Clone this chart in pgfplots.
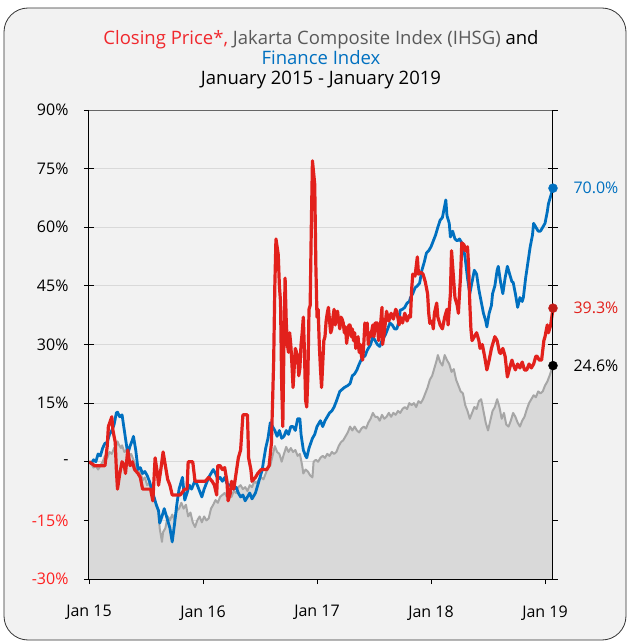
\documentclass[border=0pt]{standalone}
\usepackage{fontspec}
\setmainfont{Open Sans}
\usepackage{pgfplots}
\usepackage{pgfplotstable}
\pgfplotsset{compat=1.18}
\definecolor{bgc}{HTML}{F2F2F2}
\definecolor{bluec}{HTML}{0070C0}
\definecolor{redc}{HTML}{E2211C}
\definecolor{greyl}{HTML}{A6A6A6}
\definecolor{greyf}{HTML}{D9D9D9}
\definecolor{gridc}{HTML}{D9D9D9}
\definecolor{titlered}{HTML}{F0282D}
\definecolor{titlegrey}{HTML}{595959}
\definecolor{negred}{HTML}{FF2020}

\pgfplotstableread{
t v
0 0
0.02 -0.5
0.04 -1.5
0.06 -1
0.08 -2
0.10 -1
0.12 0
0.14 1.5
0.16 1
0.18 2.5
0.20 2
0.22 3.5
0.24 4
0.25 5.2
0.26 4.5
0.28 3.5
0.29 4.2
0.31 2.5
0.33 3
0.35 1.5
0.37 2
0.39 0.5
0.41 -1
0.43 -3
0.45 -2.5
0.47 -4.7
0.49 -4
0.51 -6
0.53 -5.5
0.55 -8
0.57 -9
0.59 -11
0.61 -13
0.62 -17
0.64 -20.5
0.65 -18
0.67 -17
0.69 -14
0.71 -15
0.73 -13.5
0.75 -15
0.77 -12.5
0.79 -12
0.81 -10.5
0.83 -12
0.85 -11
0.87 -14
0.89 -13
0.91 -15.5
0.93 -16.7
0.95 -15
0.97 -14
0.99 -15.5
1.01 -14
1.03 -15
1.05 -14.5
1.07 -12
1.09 -11
1.11 -9.8
1.13 -10.5
1.15 -9
1.17 -8.5
1.19 -8
1.21 -9
1.23 -8
1.25 -9
1.27 -7.5
1.29 -8
1.31 -6.5
1.33 -6
1.35 -7
1.37 -6.5
1.39 -7.5
1.41 -6
1.43 -6.5
1.45 -5
1.47 -5.5
1.49 -4.5
1.51 -4
1.53 -4.5
1.55 -3
1.57 -1.5
1.59 -1
1.61 1.5
1.63 4
1.65 2.5
1.67 2
1.69 0
1.71 2
1.73 3.8
1.75 2.5
1.77 3.5
1.79 2.5
1.81 3
1.83 1.5
1.85 2
1.87 -1
1.88 -3
1.90 -2
1.92 -2.5
1.94 -3.5
1.96 -4
1.97 0
1.99 0.5
2.01 0
2.03 1
2.05 1.5
2.07 1
2.09 2
2.11 1.5
2.13 2.5
2.15 2
2.17 2.5
2.19 4
2.21 5
2.23 5.5
2.25 6.5
2.27 7.5
2.29 9
2.31 8
2.33 9
2.35 8
2.37 7.5
2.39 8.5
2.41 9
2.43 8.5
2.45 10
2.47 11
2.49 12.5
2.51 11.5
2.53 11.5
2.55 10.5
2.57 12
2.59 11
2.61 11.5
2.63 12.5
2.65 11.5
2.67 12.5
2.69 12
2.71 13
2.73 12.5
2.75 13.5
2.77 14
2.79 13.5
2.81 15
2.83 14.5
2.85 15
2.87 14
2.89 15.5
2.91 15
2.93 16
2.95 17.5
2.97 19
2.99 21
3.01 22
3.03 24
3.05 26
3.06 27.3
3.08 25.5
3.10 24.6
3.12 27.3
3.14 26
3.16 25
3.18 23
3.20 23.7
3.22 21
3.24 19.5
3.26 18
3.28 17.5
3.30 14.5
3.32 13
3.34 11
3.36 12.5
3.38 14
3.40 13.5
3.42 15.5
3.44 16
3.46 13
3.48 10
3.50 8
3.52 10.5
3.54 13
3.56 14
3.58 16
3.60 14
3.62 11
3.64 12.5
3.66 9.5
3.68 9
3.70 10.5
3.72 12.5
3.74 11.5
3.76 10
3.78 9
3.80 10.5
3.82 11.5
3.84 13.4
3.86 15
3.88 16
3.90 17
3.92 16.5
3.94 18
3.96 17.5
3.98 18
4.00 19.5
4.02 20.5
4.04 22
4.07 24.6
}\ihsg

\pgfplotstableread{
t v
0 0
0.02 -0.5
0.04 0.5
0.06 0
0.08 2
0.10 1.5
0.12 3.5
0.14 4.7
0.16 5
0.18 7
0.20 8
0.22 9.5
0.24 12.5
0.25 12.7
0.27 11.5
0.29 12
0.30 10
0.32 6
0.34 2
0.36 4
0.38 5.5
0.39 6.5
0.41 3
0.43 -2
0.45 -1.5
0.47 -3
0.49 -2.5
0.51 -3.5
0.53 -5
0.55 -7
0.57 -9
0.59 -11
0.61 -12.5
0.62 -15.7
0.64 -14
0.66 -12
0.67 -13
0.69 -15
0.71 -17
0.73 -20.5
0.75 -16
0.77 -11
0.79 -7
0.81 -5
0.82 -4
0.84 -9.8
0.86 -8
0.88 -6
0.90 -7
0.93 -4.8
0.95 -6
0.97 -7.5
0.99 -9
1.01 -7
1.03 -5.5
1.05 -4
1.07 -3
1.09 -2
1.11 -3
1.13 -4.5
1.15 -4
1.17 -5
1.19 -4
1.21 -5.5
1.23 -6
1.25 -6
1.27 -7
1.29 -6.5
1.31 -8
1.33 -9
1.35 -8.5
1.37 -10
1.39 -9
1.41 -8
1.43 -9.5
1.46 -8
1.48 -6
1.50 -4
1.52 -2
1.53 0
1.55 3.5
1.57 6
1.59 10
1.61 9
1.63 8
1.65 6.5
1.67 8
1.69 6
1.71 6.5
1.73 8
1.75 7
1.77 9
1.79 9
1.81 8
1.83 11
1.85 11
1.86 7
1.88 3
1.90 1.5
1.91 1
1.93 3.5
1.96 6
1.98 7
2.00 9
2.03 10.5
2.05 9
2.07 10.5
2.09 11.5
2.11 12.5
2.13 13
2.15 14
2.17 15.5
2.20 18
2.22 18.5
2.24 19
2.27 19.5
2.29 20
2.31 22
2.33 22.5
2.35 23.5
2.37 25
2.40 26.8
2.42 27
2.44 28.5
2.47 30
2.49 32
2.51 31
2.53 30
2.55 29.5
2.57 31
2.60 32.5
2.62 34
2.64 35.5
2.66 35
2.68 34
2.70 34
2.72 36
2.73 38.8
2.75 39
2.77 39.5
2.79 40.6
2.81 41
2.82 42
2.84 43
2.86 44.5
2.88 45
2.90 45.7
2.92 49
2.94 51
2.96 53.4
2.98 54
3.00 55
3.02 56.5
3.04 58
3.06 60
3.08 61.8
3.10 62.5
3.11 64
3.13 67
3.14 63
3.16 61
3.17 57.5
3.19 59
3.21 57
3.23 56.5
3.25 57
3.27 56
3.28 55.5
3.30 52
3.32 47
3.34 43
3.36 46
3.38 49
3.40 48
3.42 44
3.44 41
3.46 38
3.48 36
3.49 34.5
3.51 38
3.53 40
3.54 43
3.56 45
3.58 49
3.59 50
3.61 46
3.63 43
3.65 47
3.67 50
3.69 48
3.71 46
3.72 46
3.74 43
3.76 39.5
3.78 42
3.80 41
3.81 42
3.83 47
3.85 51
3.87 55
3.89 58
3.90 61
3.92 60
3.94 59
3.96 59
3.98 60
4.00 61
4.02 64
4.03 66
4.05 68
4.07 70
}\fin

\pgfplotstableread{
t v
0 0
0.05 -1
0.10 -1
0.14 -1
0.16 4
0.17 9
0.20 11.5
0.21 8
0.23 5
0.24 -2
0.25 -7
0.27 -3
0.29 0
0.31 -1
0.32 -3
0.34 3
0.36 -1
0.38 0
0.40 -2
0.43 -3
0.45 -4
0.47 -7
0.50 -7
0.54 -7
0.56 -10
0.58 1
0.60 -3
0.61 -6
0.63 -2
0.65 2.5
0.67 -1
0.69 -4.5
0.71 -6
0.73 -8.5
0.75 -8.5
0.80 -8.5
0.84 -7
0.86 -7
0.87 0
0.91 0
0.93 -5
1.02 -5
1.05 -4
1.08 -5
1.10 -6
1.12 -8.5
1.13 -1
1.15 -1
1.17 -2
1.19 -1.5
1.21 -5
1.22 -10
1.24 -8
1.25 -5
1.27 -7
1.29 -3
1.31 1
1.33 3
1.35 12
1.39 12
1.40 1
1.42 -2
1.43 -5
1.46 -4
1.48 -3
1.51 -2
1.54 -2
1.56 -2
1.58 -1
1.60 4.7
1.61 15
1.62 26
1.63 45
1.64 57
1.66 53
1.67 45
1.68 41
1.69 20
1.70 9
1.71 30
1.72 47
1.73 36
1.74 30
1.75 28
1.76 33
1.77 30
1.78 25
1.79 19
1.80 24
1.81 29
1.83 27
1.84 22
1.85 24
1.86 30
1.87 33
1.88 37
1.89 28
1.90 15.7
1.91 14
1.92 22
1.93 39
1.94 40
1.95 60
1.96 77
1.97 74
1.98 71
1.99 50
2.00 37
2.01 39
2.02 30
2.03 24
2.04 19
2.05 25
2.06 31
2.07 32
2.08 36
2.09 38
2.10 39.5
2.11 36
2.12 33
2.13 34
2.14 37
2.15 39
2.16 35
2.17 38
2.18 38.5
2.19 36
2.20 34
2.21 37
2.22 36.5
2.23 35.5
2.24 33
2.25 34.5
2.26 30.3
2.27 33
2.28 35
2.29 35
2.30 32
2.31 34
2.32 31
2.33 33
2.34 29
2.35 30
2.36 32
2.37 28
2.38 30
2.39 27
2.40 26
2.41 30
2.42 35.5
2.43 33
2.44 35.5
2.45 30
2.46 33
2.47 32
2.49 35
2.50 32
2.51 35.5
2.53 35.5
2.54 31
2.56 36
2.57 39.5
2.575 30
2.59 33
2.61 38.5
2.63 36
2.65 38
2.67 36.5
2.69 39
2.70 38.5
2.72 35
2.73 37
2.75 35.5
2.77 38
2.79 36
2.81 37.5
2.82 37
2.83 44
2.84 48
2.86 47.5
2.88 52.4
2.89 48
2.91 48.5
2.93 48
2.95 46
2.97 43
2.98 38
2.99 35.4
3.01 36
3.02 34
3.03 38
3.05 40.6
3.06 37
3.08 35
3.10 34
3.12 37
3.14 39
3.15 35
3.17 43
3.18 54
3.19 50
3.21 42
3.23 40
3.24 38
3.26 48
3.27 56
3.29 55.5
3.30 54
3.32 55
3.33 50
3.34 40.6
3.35 34
3.36 31
3.38 32
3.40 33
3.42 31
3.43 29
3.45 30
3.47 27
3.49 23.5
3.51 26
3.53 29
3.54 30
3.56 32
3.58 31
3.60 28
3.61 27.7
3.63 29
3.65 27
3.67 21.7
3.69 24
3.71 26
3.72 25
3.74 23.5
3.76 25
3.78 24
3.80 25.5
3.82 23.5
3.84 23.5
3.86 25
3.88 24
3.90 25
3.92 27
3.93 27
3.95 26
3.97 26
3.99 31
4.00 32
4.02 35
4.03 33
4.05 35
4.07 39.3
}\price

\begin{document}
\begin{tikzpicture}[x=1pt,y=1pt]
\fill[white] (-89,-62) rectangle (539,579);
\filldraw[fill=bgc, draw=black!80, line width=0.8pt, rounded corners=24pt] (-85,-61) rectangle (537,571);
\node[align=center, font=\fontsize{18.5}{20}\selectfont] at (232,519)
 {\textcolor{titlered}{Closing Price*,} \textcolor{titlegrey}{Jakarta Composite Index (IHSG)} and\\
  \textcolor{bluec}{Finance Index}\\
  January 2015 - January 2019};
\begin{axis}[
  at={(0,0)}, anchor=south west,
  scale only axis, width=464pt, height=469pt,
  xmin=0, xmax=4.07, ymin=-30, ymax=90,
  clip=false,
  xtick={0,1,2,3,4},
  xticklabels={Jan 15,Jan 16,Jan 17,Jan 18,Jan 19},
  ytick={-30,-15,0,15,30,45,60,75,90},
  yticklabels={\textcolor{negred}{-30\%},\textcolor{negred}{-15\%},-,15\%,30\%,45\%,60\%,75\%,90\%},
  axis line style={draw=none},
  tick align=center, major tick length=10pt,
  ytick pos=both, yticklabel pos=left,
  xtick pos=bottom,
  tick style={black, line width=0.8pt},
  ymajorgrids, grid style={gridc, line width=0.9pt},
  ticklabel style={font=\fontsize{16}{19}\selectfont},
  yticklabel style={xshift=-12pt},
  xticklabel style={yshift=-18pt},
]
\addplot[fill=greyf, draw=none] table[x=t,y=v] {\ihsg} -- (axis cs:4.07,-30) -- (axis cs:0,-30) -- cycle;
\addplot[greyl, line width=2pt, line join=round] table[x=t,y=v] {\ihsg};
\addplot[bluec, line width=2.8pt, line join=round] table[x=t,y=v] {\fin};
\addplot[redc, line width=3.2pt, line join=round] table[x=t,y=v] {\price};
\draw[black!60, line width=0.9pt] (rel axis cs:0,1) -- (rel axis cs:1,1);
\draw[black, line width=1pt] (rel axis cs:0,1) -- (rel axis cs:0,0) -- (rel axis cs:1,0) -- (rel axis cs:1,1);
\addplot[only marks, mark=*, mark size=4.5pt, bluec] coordinates {(4.07,70)};
\addplot[only marks, mark=*, mark size=4.5pt, redc!85!black] coordinates {(4.07,39.3)};
\addplot[only marks, mark=*, mark size=4.5pt, black] coordinates {(4.07,24.6)};
\node[anchor=west, bluec, font=\fontsize{16}{19}\selectfont, xshift=17pt] at (axis cs:4.07,70) {70.0\%};
\node[anchor=west, redc, font=\fontsize{16}{19}\selectfont, xshift=17pt] at (axis cs:4.07,39.3) {39.3\%};
\node[anchor=west, black, font=\fontsize{16}{19}\selectfont, xshift=17pt] at (axis cs:4.07,24.6) {24.6\%};
\end{axis}
\end{tikzpicture}
\end{document}
